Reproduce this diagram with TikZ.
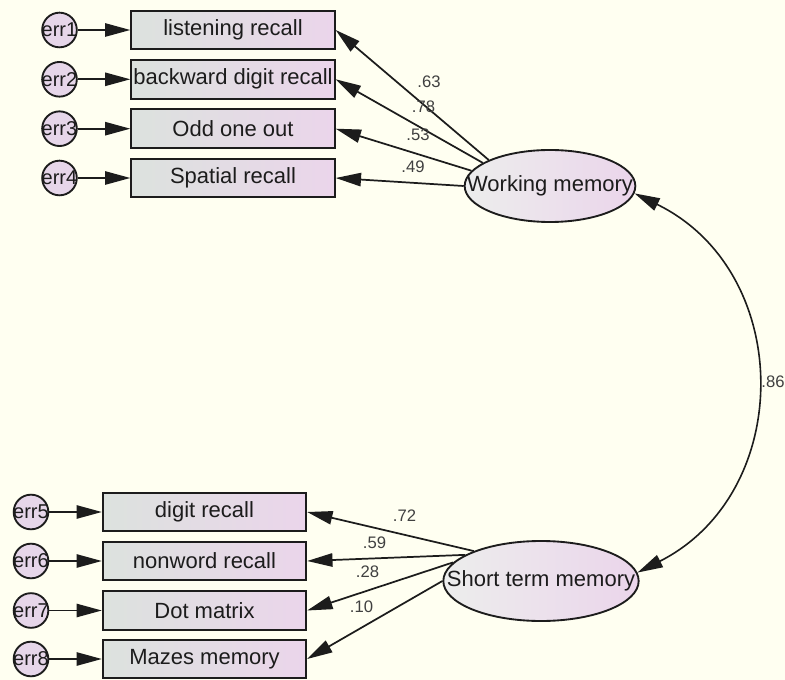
\documentclass[tikz,border=0pt]{standalone}
\usepackage{fontspec}
\setmainfont{Liberation Sans}
\usepackage{tikz}
\usetikzlibrary{shapes.geometric, arrows.meta}
\definecolor{bgcream}{HTML}{FFFFF1}
\definecolor{leftgrey}{HTML}{DCE2DE}
\definecolor{rightpink}{HTML}{EBD5EB}
\definecolor{errfill}{HTML}{E6D6E9}
\definecolor{inkgrey}{HTML}{1C1C1C}

\begin{document}
\begin{tikzpicture}[x=.75pt, y=-.75pt,
		obsbox/.style={draw=inkgrey, line width=1.5pt, left color=leftgrey, right color=rightpink, minimum width=152.5pt, minimum height=29pt, inner sep=0pt, font=\fontsize{16.5}{18}\selectfont, text=inkgrey},
		errnode/.style={circle, draw=inkgrey, line width=1.4pt, fill=errfill, minimum size=26pt, inner sep=0pt, font=\fontsize{15}{16}\selectfont, text=inkgrey},
		latent/.style={ellipse, draw=inkgrey, line width=1.4pt, left color=leftgrey!70!gray!30!white, right color=rightpink, inner sep=0pt, font=\fontsize{16.5}{18}\selectfont, text=inkgrey},
		loadarrow/.style={-{Triangle[length=19pt, width=10pt]}, line width=1.3pt, draw=inkgrey},
		covarrow/.style={{Triangle[length=19pt, width=10pt]}-{Triangle[length=19pt, width=10pt]}, line width=1.2pt, draw=inkgrey},
		coef/.style={font=\fontsize{12.5}{14}\selectfont, text=black!75, inner sep=0pt}
	]
	\path[use as bounding box, fill=bgcream] (0,0) rectangle (785,680);
	\node[latent, minimum width=128pt, minimum height=54pt] (wm) at (550,186) {\makebox[0pt]{Working memory}};
	\node[latent, minimum width=146.5pt, minimum height=60pt] (stm) at (541,581) {\makebox[0pt]{Short term memory}};
	\foreach \i/\txt/\yy/\ang/\val/\lx/\ly in {1/listening recall/30/157/.63/429/82, 2/backward digit recall/79.3/161.5/.78/423.5/107, 3/Odd one out/128.7/169/.53/418/135, 4/Spatial recall/178/180/.49/413/167} {
		\node[obsbox] (obs\i) at (233,\yy) {\txt};
		\node[errnode] (err\i) at (59.5,\yy) {\makebox[0pt]{err\i}};
		\draw[loadarrow] (err\i) -- (obs\i);
		\draw[loadarrow] (wm.\ang) -- (obs\i.east);
		\node[coef] (coef\i) at (\lx,\ly) {\val};
	}
	\foreach \i/\txt/\yy/\ang/\val/\lx/\ly in {5/digit recall/512/156/.72/404.5/516, 6/nonword recall/561/161/.59/374.5/543, 7/Dot matrix/610.5/168.6/.28/367.5/572, 8/Mazes memory/659/180/.10/361.5/607} {
		\node[obsbox] (obs\i) at (204.5,\yy) {\txt};
		\node[errnode] (err\i) at (31,\yy) {\makebox[0pt]{err\i}};
		\draw[loadarrow] (err\i) -- (obs\i);
		\draw[loadarrow] (stm.\ang) -- (obs\i.east);
		\node[coef] (coef\i) at (\lx,\ly) {\val};
	}
	\draw[covarrow] (wm.355) .. controls +(160,78) and +(158,-80) .. (stm.5) node[coef, pos=.5, right=4pt] (coef9) {.86};
\end{tikzpicture}
\end{document}
